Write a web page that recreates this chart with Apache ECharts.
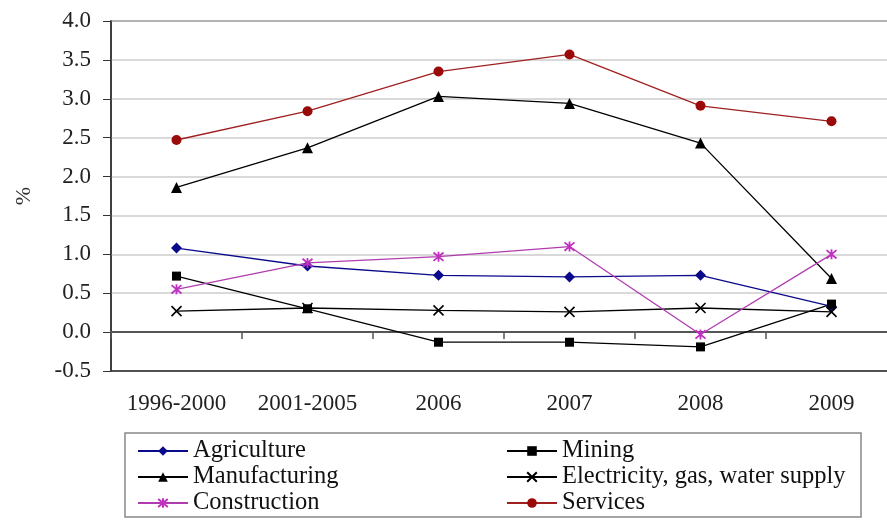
<!DOCTYPE html>
<html>
<head>
<meta charset="utf-8">
<script src="https://cdn.jsdelivr.net/npm/echarts@6/dist/echarts.min.js"></script>
<style>html,body{margin:0;padding:0;background:#fff;overflow:hidden}#c{width:900px;height:520px}</style>
</head>
<body>
<div id="c"></div>
<script>
const categories = ['1996-2000', '2001-2005', '2006', '2007', '2008', '2009'];
const agriculture = [1.08, 0.85, 0.73, 0.71, 0.73, 0.33];
const mining = [0.72, 0.30, -0.13, -0.13, -0.19, 0.36];
const manufacturing = [1.86, 2.37, 3.03, 2.94, 2.43, 0.69];
const electricity = [0.27, 0.31, 0.28, 0.26, 0.31, 0.26];
const construction = [0.55, 0.89, 0.97, 1.10, -0.03, 1.00];
const services = [2.47, 2.84, 3.35, 3.57, 2.91, 2.71];
const yTicks = { min: -0.5, max: 4.0, interval: 0.5 };

const FONT = 'Liberation Serif';
const chart = echarts.init(document.getElementById('c'));

function mk(name, data, color, symbol, size, extra) {
  return Object.assign({
    name, type: 'line', data, xAxisIndex: 0,
    symbol, symbolSize: size,
    lineStyle: { color, width: 1.3 },
    itemStyle: { color },
    emphasis: { disabled: true },
    animation: false, z: 3
  }, extra || {});
}

const xPath = 'path://M0,0L10,10M10,0L0,10';
const starPath = 'path://M0,0L10,10M10,0L0,10M5,-1L5,11';

const legendText = { fontFamily: FONT, fontSize: 24.5, color: '#111', lineHeight: 26 };

chart.setOption({
  backgroundColor: '#fff',
  animation: false,
  textStyle: { fontFamily: FONT },
  grid: { left: 111, top: 21, width: 786, height: 350, show: true, borderColor: '#333', borderWidth: 1.5, backgroundColor: 'transparent' },
  xAxis: [
    {
      type: 'category', data: categories, position: 'bottom',
      axisLine: { onZero: false, lineStyle: { color: '#333', width: 1.5 } },
      axisTick: { show: false },
      axisLabel: { color: '#222', fontFamily: FONT, fontSize: 23, margin: 21, interval: 0 },
      splitLine: { show: false }
    },
    {
      type: 'category', data: categories, position: 'top',
      axisLine: { onZero: true, lineStyle: { color: '#555', width: 2 } },
      axisTick: { show: true, inside: true, length: 7, lineStyle: { color: '#555', width: 1.5 } },
      axisLabel: { show: false },
      splitLine: { show: false }
    }
  ],
  yAxis: {
    type: 'value', min: yTicks.min, max: yTicks.max, interval: yTicks.interval,
    name: '%', nameLocation: 'middle', nameGap: 76, nameRotate: 90,
    nameTextStyle: { fontFamily: FONT, fontSize: 22, color: '#333' },
    axisLine: { show: true, lineStyle: { color: '#333', width: 1.5 } },
    axisTick: { show: true, length: 8, lineStyle: { color: '#333' } },
    axisLabel: { color: '#222', fontFamily: FONT, fontSize: 23, margin: 20, formatter: v => v.toFixed(1) },
    splitLine: { show: true, lineStyle: { color: '#cccccc', width: 1.5 } }
  },
  legend: [
    {
      left: 137, top: 438, orient: 'vertical', itemGap: 0, itemWidth: 50, itemHeight: 12,
      textStyle: legendText,
      data: ['Agriculture', 'Manufacturing', 'Construction'],
      padding: 0
    },
    {
      left: 506, top: 438, orient: 'vertical', itemGap: 0, itemWidth: 50, itemHeight: 12,
      textStyle: legendText,
      data: ['Mining', 'Electricity, gas, water supply', 'Services'],
      padding: 0
    }
  ],
  graphic: [{
    type: 'rect', shape: { x: 125, y: 433, width: 736, height: 84 },
    style: { fill: 'none', stroke: '#888', lineWidth: 1.5 }, silent: true
  }],
  series: [
    mk('Agriculture', agriculture, '#0a0a8a', 'diamond', 11),
    mk('Mining', mining, '#000', 'rect', 9),
    mk('Manufacturing', manufacturing, '#000', 'triangle', 11),
    mk('Electricity, gas, water supply', electricity, '#000', xPath, 10,
      { itemStyle: { color: '#000', borderColor: '#000', borderWidth: 1.6 } }),
    mk('Construction', construction, '#b03cb0', starPath, 10,
      { itemStyle: { color: '#c030c0', borderColor: '#c030c0', borderWidth: 1.8 } }),
    mk('Services', services, '#a02020', 'circle', 10,
      { itemStyle: { color: '#9a0a0a' } })
  ]
});
</script>
</body>
</html>
